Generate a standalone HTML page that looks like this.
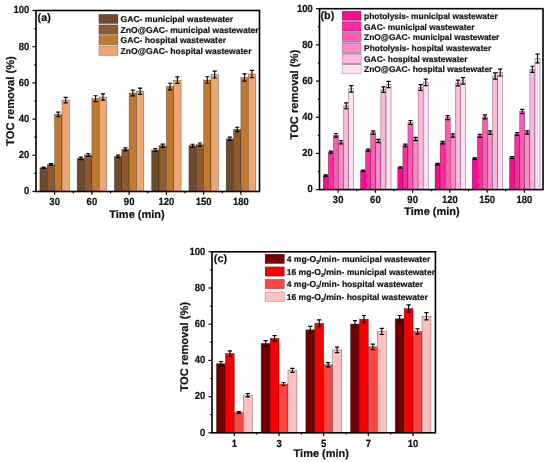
<!DOCTYPE html>
<html><head><meta charset="utf-8"><style>
html,body{margin:0;padding:0;background:#fff;}
svg{display:block;will-change:transform;}
text{font-family:"Liberation Sans", sans-serif;font-weight:bold;fill:#111;text-rendering:geometricPrecision;stroke:#111;stroke-width:0.2px;}
</style></head><body>
<svg width="550" height="462" viewBox="0 0 550 462">
<rect width="550" height="462" fill="#fff"/>
<rect x="39.91" y="167.79" width="7.36" height="23.71" fill="#6e4a2e" stroke="#000" stroke-opacity="0.55" stroke-width="0.5"/>
<rect x="47.27" y="164.53" width="7.36" height="26.97" fill="#8e5a2e" stroke="#000" stroke-opacity="0.55" stroke-width="0.5"/>
<rect x="54.62" y="114.39" width="7.36" height="77.11" fill="#c07a30" stroke="#000" stroke-opacity="0.55" stroke-width="0.5"/>
<rect x="61.98" y="100.09" width="7.36" height="91.41" fill="#eea674" stroke="#000" stroke-opacity="0.55" stroke-width="0.5"/>
<rect x="77.16" y="158.38" width="7.36" height="33.12" fill="#6e4a2e" stroke="#000" stroke-opacity="0.55" stroke-width="0.5"/>
<rect x="84.52" y="154.94" width="7.36" height="36.56" fill="#8e5a2e" stroke="#000" stroke-opacity="0.55" stroke-width="0.5"/>
<rect x="91.88" y="98.65" width="7.36" height="92.85" fill="#c07a30" stroke="#000" stroke-opacity="0.55" stroke-width="0.5"/>
<rect x="99.23" y="97.02" width="7.36" height="94.48" fill="#eea674" stroke="#000" stroke-opacity="0.55" stroke-width="0.5"/>
<rect x="114.41" y="156.39" width="7.36" height="35.11" fill="#6e4a2e" stroke="#000" stroke-opacity="0.55" stroke-width="0.5"/>
<rect x="121.77" y="149.33" width="7.36" height="42.17" fill="#8e5a2e" stroke="#000" stroke-opacity="0.55" stroke-width="0.5"/>
<rect x="129.12" y="93.04" width="7.36" height="98.46" fill="#c07a30" stroke="#000" stroke-opacity="0.55" stroke-width="0.5"/>
<rect x="136.48" y="91.23" width="7.36" height="100.27" fill="#eea674" stroke="#000" stroke-opacity="0.55" stroke-width="0.5"/>
<rect x="151.66" y="150.05" width="7.36" height="41.45" fill="#6e4a2e" stroke="#000" stroke-opacity="0.55" stroke-width="0.5"/>
<rect x="159.02" y="145.71" width="7.36" height="45.79" fill="#8e5a2e" stroke="#000" stroke-opacity="0.55" stroke-width="0.5"/>
<rect x="166.38" y="86.52" width="7.36" height="104.98" fill="#c07a30" stroke="#000" stroke-opacity="0.55" stroke-width="0.5"/>
<rect x="173.73" y="80.19" width="7.36" height="111.31" fill="#eea674" stroke="#000" stroke-opacity="0.55" stroke-width="0.5"/>
<rect x="188.91" y="145.71" width="7.36" height="45.79" fill="#6e4a2e" stroke="#000" stroke-opacity="0.55" stroke-width="0.5"/>
<rect x="196.27" y="144.62" width="7.36" height="46.88" fill="#8e5a2e" stroke="#000" stroke-opacity="0.55" stroke-width="0.5"/>
<rect x="203.62" y="80" width="7.36" height="111.5" fill="#c07a30" stroke="#000" stroke-opacity="0.55" stroke-width="0.5"/>
<rect x="210.98" y="74.57" width="7.36" height="116.93" fill="#eea674" stroke="#000" stroke-opacity="0.55" stroke-width="0.5"/>
<rect x="226.16" y="138.83" width="7.36" height="52.67" fill="#6e4a2e" stroke="#000" stroke-opacity="0.55" stroke-width="0.5"/>
<rect x="233.52" y="129.42" width="7.36" height="62.08" fill="#8e5a2e" stroke="#000" stroke-opacity="0.55" stroke-width="0.5"/>
<rect x="240.88" y="77.47" width="7.36" height="114.03" fill="#c07a30" stroke="#000" stroke-opacity="0.55" stroke-width="0.5"/>
<rect x="248.23" y="74.03" width="7.36" height="117.47" fill="#eea674" stroke="#000" stroke-opacity="0.55" stroke-width="0.5"/>
<path d="M43.59 167.06V168.51" stroke="#000" stroke-width="1.1" fill="none"/>
<path d="M41.49 167.06h4.2M41.49 168.51h4.2" stroke="#000" stroke-width="1.2" fill="none"/>
<path d="M50.95 163.63V165.44" stroke="#000" stroke-width="1.1" fill="none"/>
<path d="M48.85 163.63h4.2M48.85 165.44h4.2" stroke="#000" stroke-width="1.2" fill="none"/>
<path d="M58.3 112.04V116.75" stroke="#000" stroke-width="1.1" fill="none"/>
<path d="M56.2 112.04h4.2M56.2 116.75h4.2" stroke="#000" stroke-width="1.2" fill="none"/>
<path d="M65.66 97.38V102.81" stroke="#000" stroke-width="1.1" fill="none"/>
<path d="M63.56 97.38h4.2M63.56 102.81h4.2" stroke="#000" stroke-width="1.2" fill="none"/>
<path d="M80.84 157.11V159.64" stroke="#000" stroke-width="1.1" fill="none"/>
<path d="M78.74 157.11h4.2M78.74 159.64h4.2" stroke="#000" stroke-width="1.2" fill="none"/>
<path d="M88.2 153.49V156.39" stroke="#000" stroke-width="1.1" fill="none"/>
<path d="M86.1 153.49h4.2M86.1 156.39h4.2" stroke="#000" stroke-width="1.2" fill="none"/>
<path d="M95.55 95.75V101.54" stroke="#000" stroke-width="1.1" fill="none"/>
<path d="M93.45 95.75h4.2M93.45 101.54h4.2" stroke="#000" stroke-width="1.2" fill="none"/>
<path d="M102.91 93.94V100.09" stroke="#000" stroke-width="1.1" fill="none"/>
<path d="M100.81 93.94h4.2M100.81 100.09h4.2" stroke="#000" stroke-width="1.2" fill="none"/>
<path d="M118.09 155.12V157.65" stroke="#000" stroke-width="1.1" fill="none"/>
<path d="M115.99 155.12h4.2M115.99 157.65h4.2" stroke="#000" stroke-width="1.2" fill="none"/>
<path d="M125.45 147.88V150.78" stroke="#000" stroke-width="1.1" fill="none"/>
<path d="M123.35 147.88h4.2M123.35 150.78h4.2" stroke="#000" stroke-width="1.2" fill="none"/>
<path d="M132.8 90.14V95.93" stroke="#000" stroke-width="1.1" fill="none"/>
<path d="M130.7 90.14h4.2M130.7 95.93h4.2" stroke="#000" stroke-width="1.2" fill="none"/>
<path d="M140.16 88.15V94.3" stroke="#000" stroke-width="1.1" fill="none"/>
<path d="M138.06 88.15h4.2M138.06 94.3h4.2" stroke="#000" stroke-width="1.2" fill="none"/>
<path d="M155.34 148.6V151.5" stroke="#000" stroke-width="1.1" fill="none"/>
<path d="M153.24 148.6h4.2M153.24 151.5h4.2" stroke="#000" stroke-width="1.2" fill="none"/>
<path d="M162.7 144.08V147.34" stroke="#000" stroke-width="1.1" fill="none"/>
<path d="M160.6 144.08h4.2M160.6 147.34h4.2" stroke="#000" stroke-width="1.2" fill="none"/>
<path d="M170.05 83.26V89.78" stroke="#000" stroke-width="1.1" fill="none"/>
<path d="M167.95 83.26h4.2M167.95 89.78h4.2" stroke="#000" stroke-width="1.2" fill="none"/>
<path d="M177.41 76.93V83.44" stroke="#000" stroke-width="1.1" fill="none"/>
<path d="M175.31 76.93h4.2M175.31 83.44h4.2" stroke="#000" stroke-width="1.2" fill="none"/>
<path d="M192.59 144.26V147.16" stroke="#000" stroke-width="1.1" fill="none"/>
<path d="M190.49 144.26h4.2M190.49 147.16h4.2" stroke="#000" stroke-width="1.2" fill="none"/>
<path d="M199.95 142.99V146.25" stroke="#000" stroke-width="1.1" fill="none"/>
<path d="M197.85 142.99h4.2M197.85 146.25h4.2" stroke="#000" stroke-width="1.2" fill="none"/>
<path d="M207.3 76.75V83.26" stroke="#000" stroke-width="1.1" fill="none"/>
<path d="M205.2 76.75h4.2M205.2 83.26h4.2" stroke="#000" stroke-width="1.2" fill="none"/>
<path d="M214.66 71.13V78.01" stroke="#000" stroke-width="1.1" fill="none"/>
<path d="M212.56 71.13h4.2M212.56 78.01h4.2" stroke="#000" stroke-width="1.2" fill="none"/>
<path d="M229.84 137.2V140.46" stroke="#000" stroke-width="1.1" fill="none"/>
<path d="M227.74 137.2h4.2M227.74 140.46h4.2" stroke="#000" stroke-width="1.2" fill="none"/>
<path d="M237.2 127.25V131.59" stroke="#000" stroke-width="1.1" fill="none"/>
<path d="M235.1 127.25h4.2M235.1 131.59h4.2" stroke="#000" stroke-width="1.2" fill="none"/>
<path d="M244.55 73.85V81.09" stroke="#000" stroke-width="1.1" fill="none"/>
<path d="M242.45 73.85h4.2M242.45 81.09h4.2" stroke="#000" stroke-width="1.2" fill="none"/>
<path d="M251.91 70.41V77.65" stroke="#000" stroke-width="1.1" fill="none"/>
<path d="M249.81 70.41h4.2M249.81 77.65h4.2" stroke="#000" stroke-width="1.2" fill="none"/>
<rect x="36" y="10.5" width="223.5" height="181" fill="none" stroke="#000" stroke-width="1.6"/>
<path d="M32.5 191.5H36" stroke="#000" stroke-width="1.2"/>
<text transform="translate(29.2 194.35) scale(0.96 1.05)" text-anchor="end" font-size="9.9">0</text>
<path d="M34.3 173.4H36" stroke="#000" stroke-width="1.2"/>
<path d="M32.5 155.3H36" stroke="#000" stroke-width="1.2"/>
<text transform="translate(29.2 158.15) scale(0.96 1.05)" text-anchor="end" font-size="9.9">20</text>
<path d="M34.3 137.2H36" stroke="#000" stroke-width="1.2"/>
<path d="M32.5 119.1H36" stroke="#000" stroke-width="1.2"/>
<text transform="translate(29.2 121.95) scale(0.96 1.05)" text-anchor="end" font-size="9.9">40</text>
<path d="M34.3 101H36" stroke="#000" stroke-width="1.2"/>
<path d="M32.5 82.9H36" stroke="#000" stroke-width="1.2"/>
<text transform="translate(29.2 85.75) scale(0.96 1.05)" text-anchor="end" font-size="9.9">60</text>
<path d="M34.3 64.8H36" stroke="#000" stroke-width="1.2"/>
<path d="M32.5 46.7H36" stroke="#000" stroke-width="1.2"/>
<text transform="translate(29.2 49.55) scale(0.96 1.05)" text-anchor="end" font-size="9.9">80</text>
<path d="M34.3 28.6H36" stroke="#000" stroke-width="1.2"/>
<path d="M32.5 10.5H36" stroke="#000" stroke-width="1.2"/>
<text transform="translate(29.2 13.35) scale(0.96 1.05)" text-anchor="end" font-size="9.9">100</text>
<path d="M54.62 191.5v3.2" stroke="#000" stroke-width="1.2"/>
<text transform="translate(54.62 205.2) scale(0.96 1.05)" text-anchor="middle" font-size="9.9">30</text>
<path d="M91.88 191.5v3.2" stroke="#000" stroke-width="1.2"/>
<text transform="translate(91.88 205.2) scale(0.96 1.05)" text-anchor="middle" font-size="9.9">60</text>
<path d="M73.25 191.5v1.7" stroke="#000" stroke-width="1.2"/>
<path d="M129.12 191.5v3.2" stroke="#000" stroke-width="1.2"/>
<text transform="translate(129.12 205.2) scale(0.96 1.05)" text-anchor="middle" font-size="9.9">90</text>
<path d="M110.5 191.5v1.7" stroke="#000" stroke-width="1.2"/>
<path d="M166.38 191.5v3.2" stroke="#000" stroke-width="1.2"/>
<text transform="translate(166.38 205.2) scale(0.96 1.05)" text-anchor="middle" font-size="9.9">120</text>
<path d="M147.75 191.5v1.7" stroke="#000" stroke-width="1.2"/>
<path d="M203.62 191.5v3.2" stroke="#000" stroke-width="1.2"/>
<text transform="translate(203.62 205.2) scale(0.96 1.05)" text-anchor="middle" font-size="9.9">150</text>
<path d="M185 191.5v1.7" stroke="#000" stroke-width="1.2"/>
<path d="M240.88 191.5v3.2" stroke="#000" stroke-width="1.2"/>
<text transform="translate(240.88 205.2) scale(0.96 1.05)" text-anchor="middle" font-size="9.9">180</text>
<path d="M222.25 191.5v1.7" stroke="#000" stroke-width="1.2"/>
<text x="137" y="217.7" text-anchor="middle" font-size="11.0">Time (min)</text>
<text transform="translate(14 101) rotate(-90)" text-anchor="middle" font-size="11.15">TOC removal (%)</text>
<text x="37.6" y="21.4" font-size="10.8">(a)</text>
<rect x="98.9" y="23.5" width="19.1" height="1.6" fill="#d4d8dc"/>
<rect x="98.9" y="34.3" width="19.1" height="1.3" fill="#d4d8dc"/>
<rect x="98.9" y="44.8" width="19.1" height="1.5" fill="#d4d8dc"/>
<rect x="98.9" y="14.3" width="19.1" height="9.2" fill="#6e4a2e" stroke="#000" stroke-opacity="0.4" stroke-width="0.5"/>
<text x="120.6" y="21.9" font-size="8.55">GAC- municipal wastewater</text>
<rect x="98.9" y="25.1" width="19.1" height="9.2" fill="#8e5a2e" stroke="#000" stroke-opacity="0.4" stroke-width="0.5"/>
<text x="120.6" y="32.7" font-size="8.55">ZnO@GAC- municipal wastewater</text>
<rect x="98.9" y="35.6" width="19.1" height="9.2" fill="#c07a30" stroke="#000" stroke-opacity="0.4" stroke-width="0.5"/>
<text x="120.6" y="43.2" font-size="8.55">GAC- hospital wastewater</text>
<rect x="98.9" y="46.3" width="19.1" height="9.2" fill="#eea674" stroke="#000" stroke-opacity="0.4" stroke-width="0.5"/>
<text x="120.6" y="53.9" font-size="8.55">ZnO@GAC- hospital wastewater</text>
<rect x="323.25" y="175.67" width="5.09" height="13.93" fill="#fc0a94" stroke="#000" stroke-opacity="0.55" stroke-width="0.5"/>
<rect x="328.34" y="152.15" width="5.09" height="37.45" fill="#fe2c9e" stroke="#000" stroke-opacity="0.55" stroke-width="0.5"/>
<rect x="333.43" y="135.33" width="5.09" height="54.27" fill="#fe5cb2" stroke="#000" stroke-opacity="0.55" stroke-width="0.5"/>
<rect x="338.52" y="142.39" width="5.09" height="47.21" fill="#ff88c8" stroke="#000" stroke-opacity="0.55" stroke-width="0.5"/>
<rect x="343.62" y="105.84" width="5.09" height="83.76" fill="#feb8de" stroke="#000" stroke-opacity="0.55" stroke-width="0.5"/>
<rect x="348.71" y="88.84" width="5.09" height="100.76" fill="#ffe0f0" stroke="#000" stroke-opacity="0.55" stroke-width="0.5"/>
<rect x="360.5" y="170.79" width="5.09" height="18.81" fill="#fc0a94" stroke="#000" stroke-opacity="0.55" stroke-width="0.5"/>
<rect x="365.59" y="150.16" width="5.09" height="39.44" fill="#fe2c9e" stroke="#000" stroke-opacity="0.55" stroke-width="0.5"/>
<rect x="370.68" y="132.62" width="5.09" height="56.98" fill="#fe5cb2" stroke="#000" stroke-opacity="0.55" stroke-width="0.5"/>
<rect x="375.77" y="140.94" width="5.09" height="48.66" fill="#ff88c8" stroke="#000" stroke-opacity="0.55" stroke-width="0.5"/>
<rect x="380.87" y="89.56" width="5.09" height="100.04" fill="#feb8de" stroke="#000" stroke-opacity="0.55" stroke-width="0.5"/>
<rect x="385.96" y="84.5" width="5.09" height="105.1" fill="#ffe0f0" stroke="#000" stroke-opacity="0.55" stroke-width="0.5"/>
<rect x="397.75" y="167.53" width="5.09" height="22.07" fill="#fc0a94" stroke="#000" stroke-opacity="0.55" stroke-width="0.5"/>
<rect x="402.84" y="145.46" width="5.09" height="44.14" fill="#fe2c9e" stroke="#000" stroke-opacity="0.55" stroke-width="0.5"/>
<rect x="407.93" y="122.49" width="5.09" height="67.11" fill="#fe5cb2" stroke="#000" stroke-opacity="0.55" stroke-width="0.5"/>
<rect x="413.02" y="138.95" width="5.09" height="50.65" fill="#ff88c8" stroke="#000" stroke-opacity="0.55" stroke-width="0.5"/>
<rect x="418.12" y="87.57" width="5.09" height="102.03" fill="#feb8de" stroke="#000" stroke-opacity="0.55" stroke-width="0.5"/>
<rect x="423.21" y="82.33" width="5.09" height="107.27" fill="#ffe0f0" stroke="#000" stroke-opacity="0.55" stroke-width="0.5"/>
<rect x="435" y="164.09" width="5.09" height="25.51" fill="#fc0a94" stroke="#000" stroke-opacity="0.55" stroke-width="0.5"/>
<rect x="440.09" y="142.57" width="5.09" height="47.03" fill="#fe2c9e" stroke="#000" stroke-opacity="0.55" stroke-width="0.5"/>
<rect x="445.18" y="117.6" width="5.09" height="72" fill="#fe5cb2" stroke="#000" stroke-opacity="0.55" stroke-width="0.5"/>
<rect x="450.27" y="135.51" width="5.09" height="54.09" fill="#ff88c8" stroke="#000" stroke-opacity="0.55" stroke-width="0.5"/>
<rect x="455.37" y="83.05" width="5.09" height="106.55" fill="#feb8de" stroke="#000" stroke-opacity="0.55" stroke-width="0.5"/>
<rect x="460.46" y="80.88" width="5.09" height="108.72" fill="#ffe0f0" stroke="#000" stroke-opacity="0.55" stroke-width="0.5"/>
<rect x="472.25" y="158.67" width="5.09" height="30.93" fill="#fc0a94" stroke="#000" stroke-opacity="0.55" stroke-width="0.5"/>
<rect x="477.34" y="135.87" width="5.09" height="53.73" fill="#fe2c9e" stroke="#000" stroke-opacity="0.55" stroke-width="0.5"/>
<rect x="482.43" y="116.88" width="5.09" height="72.72" fill="#fe5cb2" stroke="#000" stroke-opacity="0.55" stroke-width="0.5"/>
<rect x="487.52" y="132.62" width="5.09" height="56.98" fill="#ff88c8" stroke="#000" stroke-opacity="0.55" stroke-width="0.5"/>
<rect x="492.62" y="75.99" width="5.09" height="113.61" fill="#feb8de" stroke="#000" stroke-opacity="0.55" stroke-width="0.5"/>
<rect x="497.71" y="72.56" width="5.09" height="117.04" fill="#ffe0f0" stroke="#000" stroke-opacity="0.55" stroke-width="0.5"/>
<rect x="509.5" y="157.58" width="5.09" height="32.02" fill="#fc0a94" stroke="#000" stroke-opacity="0.55" stroke-width="0.5"/>
<rect x="514.59" y="134.06" width="5.09" height="55.54" fill="#fe2c9e" stroke="#000" stroke-opacity="0.55" stroke-width="0.5"/>
<rect x="519.68" y="111.45" width="5.09" height="78.15" fill="#fe5cb2" stroke="#000" stroke-opacity="0.55" stroke-width="0.5"/>
<rect x="524.77" y="132.44" width="5.09" height="57.16" fill="#ff88c8" stroke="#000" stroke-opacity="0.55" stroke-width="0.5"/>
<rect x="529.87" y="69.3" width="5.09" height="120.3" fill="#feb8de" stroke="#000" stroke-opacity="0.55" stroke-width="0.5"/>
<rect x="534.96" y="58.45" width="5.09" height="131.15" fill="#ffe0f0" stroke="#000" stroke-opacity="0.55" stroke-width="0.5"/>
<path d="M325.8 174.95V176.39" stroke="#000" stroke-width="1.1" fill="none"/>
<path d="M323.7 174.95h4.2M323.7 176.39h4.2" stroke="#000" stroke-width="1.2" fill="none"/>
<path d="M330.89 151.07V153.24" stroke="#000" stroke-width="1.1" fill="none"/>
<path d="M328.79 151.07h4.2M328.79 153.24h4.2" stroke="#000" stroke-width="1.2" fill="none"/>
<path d="M335.98 133.52V137.14" stroke="#000" stroke-width="1.1" fill="none"/>
<path d="M333.88 133.52h4.2M333.88 137.14h4.2" stroke="#000" stroke-width="1.2" fill="none"/>
<path d="M341.07 140.76V144.01" stroke="#000" stroke-width="1.1" fill="none"/>
<path d="M338.97 140.76h4.2M338.97 144.01h4.2" stroke="#000" stroke-width="1.2" fill="none"/>
<path d="M346.16 102.95V108.74" stroke="#000" stroke-width="1.1" fill="none"/>
<path d="M344.06 102.95h4.2M344.06 108.74h4.2" stroke="#000" stroke-width="1.2" fill="none"/>
<path d="M351.25 85.58V92.09" stroke="#000" stroke-width="1.1" fill="none"/>
<path d="M349.15 85.58h4.2M349.15 92.09h4.2" stroke="#000" stroke-width="1.2" fill="none"/>
<path d="M363.05 170.06V171.51" stroke="#000" stroke-width="1.1" fill="none"/>
<path d="M360.95 170.06h4.2M360.95 171.51h4.2" stroke="#000" stroke-width="1.2" fill="none"/>
<path d="M368.14 149.08V151.25" stroke="#000" stroke-width="1.1" fill="none"/>
<path d="M366.04 149.08h4.2M366.04 151.25h4.2" stroke="#000" stroke-width="1.2" fill="none"/>
<path d="M373.23 130.81V134.43" stroke="#000" stroke-width="1.1" fill="none"/>
<path d="M371.13 130.81h4.2M371.13 134.43h4.2" stroke="#000" stroke-width="1.2" fill="none"/>
<path d="M378.32 139.31V142.57" stroke="#000" stroke-width="1.1" fill="none"/>
<path d="M376.22 139.31h4.2M376.22 142.57h4.2" stroke="#000" stroke-width="1.2" fill="none"/>
<path d="M383.41 86.85V92.28" stroke="#000" stroke-width="1.1" fill="none"/>
<path d="M381.31 86.85h4.2M381.31 92.28h4.2" stroke="#000" stroke-width="1.2" fill="none"/>
<path d="M388.5 81.42V87.57" stroke="#000" stroke-width="1.1" fill="none"/>
<path d="M386.4 81.42h4.2M386.4 87.57h4.2" stroke="#000" stroke-width="1.2" fill="none"/>
<path d="M400.3 166.81V168.25" stroke="#000" stroke-width="1.1" fill="none"/>
<path d="M398.2 166.81h4.2M398.2 168.25h4.2" stroke="#000" stroke-width="1.2" fill="none"/>
<path d="M405.39 144.19V146.73" stroke="#000" stroke-width="1.1" fill="none"/>
<path d="M403.29 144.19h4.2M403.29 146.73h4.2" stroke="#000" stroke-width="1.2" fill="none"/>
<path d="M410.48 120.5V124.48" stroke="#000" stroke-width="1.1" fill="none"/>
<path d="M408.38 120.5h4.2M408.38 124.48h4.2" stroke="#000" stroke-width="1.2" fill="none"/>
<path d="M415.57 137.32V140.58" stroke="#000" stroke-width="1.1" fill="none"/>
<path d="M413.47 137.32h4.2M413.47 140.58h4.2" stroke="#000" stroke-width="1.2" fill="none"/>
<path d="M420.66 84.68V90.47" stroke="#000" stroke-width="1.1" fill="none"/>
<path d="M418.56 84.68h4.2M418.56 90.47h4.2" stroke="#000" stroke-width="1.2" fill="none"/>
<path d="M425.75 79.07V85.58" stroke="#000" stroke-width="1.1" fill="none"/>
<path d="M423.65 79.07h4.2M423.65 85.58h4.2" stroke="#000" stroke-width="1.2" fill="none"/>
<path d="M437.55 163.37V164.82" stroke="#000" stroke-width="1.1" fill="none"/>
<path d="M435.45 163.37h4.2M435.45 164.82h4.2" stroke="#000" stroke-width="1.2" fill="none"/>
<path d="M442.64 141.3V143.83" stroke="#000" stroke-width="1.1" fill="none"/>
<path d="M440.54 141.3h4.2M440.54 143.83h4.2" stroke="#000" stroke-width="1.2" fill="none"/>
<path d="M447.73 115.61V119.59" stroke="#000" stroke-width="1.1" fill="none"/>
<path d="M445.63 115.61h4.2M445.63 119.59h4.2" stroke="#000" stroke-width="1.2" fill="none"/>
<path d="M452.82 133.88V137.14" stroke="#000" stroke-width="1.1" fill="none"/>
<path d="M450.72 133.88h4.2M450.72 137.14h4.2" stroke="#000" stroke-width="1.2" fill="none"/>
<path d="M457.91 80.16V85.94" stroke="#000" stroke-width="1.1" fill="none"/>
<path d="M455.81 80.16h4.2M455.81 85.94h4.2" stroke="#000" stroke-width="1.2" fill="none"/>
<path d="M463 77.62V84.14" stroke="#000" stroke-width="1.1" fill="none"/>
<path d="M460.9 77.62h4.2M460.9 84.14h4.2" stroke="#000" stroke-width="1.2" fill="none"/>
<path d="M474.8 157.94V159.39" stroke="#000" stroke-width="1.1" fill="none"/>
<path d="M472.7 157.94h4.2M472.7 159.39h4.2" stroke="#000" stroke-width="1.2" fill="none"/>
<path d="M479.89 134.43V137.32" stroke="#000" stroke-width="1.1" fill="none"/>
<path d="M477.79 134.43h4.2M477.79 137.32h4.2" stroke="#000" stroke-width="1.2" fill="none"/>
<path d="M484.98 114.89V118.87" stroke="#000" stroke-width="1.1" fill="none"/>
<path d="M482.88 114.89h4.2M482.88 118.87h4.2" stroke="#000" stroke-width="1.2" fill="none"/>
<path d="M490.07 130.81V134.43" stroke="#000" stroke-width="1.1" fill="none"/>
<path d="M487.97 130.81h4.2M487.97 134.43h4.2" stroke="#000" stroke-width="1.2" fill="none"/>
<path d="M495.16 72.92V79.07" stroke="#000" stroke-width="1.1" fill="none"/>
<path d="M493.06 72.92h4.2M493.06 79.07h4.2" stroke="#000" stroke-width="1.2" fill="none"/>
<path d="M500.25 69.12V75.99" stroke="#000" stroke-width="1.1" fill="none"/>
<path d="M498.15 69.12h4.2M498.15 75.99h4.2" stroke="#000" stroke-width="1.2" fill="none"/>
<path d="M512.05 156.68V158.49" stroke="#000" stroke-width="1.1" fill="none"/>
<path d="M509.95 156.68h4.2M509.95 158.49h4.2" stroke="#000" stroke-width="1.2" fill="none"/>
<path d="M517.14 132.62V135.51" stroke="#000" stroke-width="1.1" fill="none"/>
<path d="M515.04 132.62h4.2M515.04 135.51h4.2" stroke="#000" stroke-width="1.2" fill="none"/>
<path d="M522.23 109.28V113.62" stroke="#000" stroke-width="1.1" fill="none"/>
<path d="M520.13 109.28h4.2M520.13 113.62h4.2" stroke="#000" stroke-width="1.2" fill="none"/>
<path d="M527.32 130.81V134.06" stroke="#000" stroke-width="1.1" fill="none"/>
<path d="M525.22 130.81h4.2M525.22 134.06h4.2" stroke="#000" stroke-width="1.2" fill="none"/>
<path d="M532.41 66.23V72.38" stroke="#000" stroke-width="1.1" fill="none"/>
<path d="M530.31 66.23h4.2M530.31 72.38h4.2" stroke="#000" stroke-width="1.2" fill="none"/>
<path d="M537.5 54.11V62.79" stroke="#000" stroke-width="1.1" fill="none"/>
<path d="M535.4 54.11h4.2M535.4 62.79h4.2" stroke="#000" stroke-width="1.2" fill="none"/>
<rect x="319.5" y="8.7" width="223.5" height="180.9" fill="none" stroke="#000" stroke-width="1.6"/>
<path d="M316 189.6H319.5" stroke="#000" stroke-width="1.2"/>
<text transform="translate(312.7 192.45) scale(0.96 1.05)" text-anchor="end" font-size="9.9">0</text>
<path d="M317.8 171.51H319.5" stroke="#000" stroke-width="1.2"/>
<path d="M316 153.42H319.5" stroke="#000" stroke-width="1.2"/>
<text transform="translate(312.7 156.27) scale(0.96 1.05)" text-anchor="end" font-size="9.9">20</text>
<path d="M317.8 135.33H319.5" stroke="#000" stroke-width="1.2"/>
<path d="M316 117.24H319.5" stroke="#000" stroke-width="1.2"/>
<text transform="translate(312.7 120.09) scale(0.96 1.05)" text-anchor="end" font-size="9.9">40</text>
<path d="M317.8 99.15H319.5" stroke="#000" stroke-width="1.2"/>
<path d="M316 81.06H319.5" stroke="#000" stroke-width="1.2"/>
<text transform="translate(312.7 83.91) scale(0.96 1.05)" text-anchor="end" font-size="9.9">60</text>
<path d="M317.8 62.97H319.5" stroke="#000" stroke-width="1.2"/>
<path d="M316 44.88H319.5" stroke="#000" stroke-width="1.2"/>
<text transform="translate(312.7 47.73) scale(0.96 1.05)" text-anchor="end" font-size="9.9">80</text>
<path d="M317.8 26.79H319.5" stroke="#000" stroke-width="1.2"/>
<path d="M316 8.7H319.5" stroke="#000" stroke-width="1.2"/>
<text transform="translate(312.7 11.55) scale(0.96 1.05)" text-anchor="end" font-size="9.9">100</text>
<path d="M338.12 189.6v3.2" stroke="#000" stroke-width="1.2"/>
<text transform="translate(338.12 203.3) scale(0.96 1.05)" text-anchor="middle" font-size="9.9">30</text>
<path d="M375.38 189.6v3.2" stroke="#000" stroke-width="1.2"/>
<text transform="translate(375.38 203.3) scale(0.96 1.05)" text-anchor="middle" font-size="9.9">60</text>
<path d="M356.75 189.6v1.7" stroke="#000" stroke-width="1.2"/>
<path d="M412.62 189.6v3.2" stroke="#000" stroke-width="1.2"/>
<text transform="translate(412.62 203.3) scale(0.96 1.05)" text-anchor="middle" font-size="9.9">90</text>
<path d="M394 189.6v1.7" stroke="#000" stroke-width="1.2"/>
<path d="M449.88 189.6v3.2" stroke="#000" stroke-width="1.2"/>
<text transform="translate(449.88 203.3) scale(0.96 1.05)" text-anchor="middle" font-size="9.9">120</text>
<path d="M431.25 189.6v1.7" stroke="#000" stroke-width="1.2"/>
<path d="M487.12 189.6v3.2" stroke="#000" stroke-width="1.2"/>
<text transform="translate(487.12 203.3) scale(0.96 1.05)" text-anchor="middle" font-size="9.9">150</text>
<path d="M468.5 189.6v1.7" stroke="#000" stroke-width="1.2"/>
<path d="M524.38 189.6v3.2" stroke="#000" stroke-width="1.2"/>
<text transform="translate(524.38 203.3) scale(0.96 1.05)" text-anchor="middle" font-size="9.9">180</text>
<path d="M505.75 189.6v1.7" stroke="#000" stroke-width="1.2"/>
<text x="432" y="214.5" text-anchor="middle" font-size="11.0">Time (min)</text>
<text transform="translate(297.7 94.65) rotate(-90)" text-anchor="middle" font-size="11.15">TOC removal (%)</text>
<text x="320.5" y="19" font-size="10.8">(b)</text>
<rect x="342.1" y="20.1" width="19" height="1.9" fill="#b0b0b0"/>
<rect x="342.1" y="31" width="19" height="1.7" fill="#b0b0b0"/>
<rect x="342.1" y="41.7" width="19" height="1.6" fill="#b0b0b0"/>
<rect x="342.1" y="52.3" width="19" height="1.9" fill="#b0b0b0"/>
<rect x="342.1" y="63.2" width="19" height="1.6" fill="#b0b0b0"/>
<rect x="342.1" y="11.1" width="19" height="9" fill="#fc0a94" stroke="#000" stroke-opacity="0.4" stroke-width="0.5"/>
<text x="364.1" y="18.6" font-size="8.4">photolysis- municipal wastewater</text>
<rect x="342.1" y="22" width="19" height="9" fill="#fe2c9e" stroke="#000" stroke-opacity="0.4" stroke-width="0.5"/>
<text x="364.1" y="29.5" font-size="8.4">GAC- municipal wastewater</text>
<rect x="342.1" y="32.7" width="19" height="9" fill="#fe5cb2" stroke="#000" stroke-opacity="0.4" stroke-width="0.5"/>
<text x="364.1" y="40.2" font-size="8.4">ZnO@GAC- municipal wastewater</text>
<rect x="342.1" y="43.3" width="19" height="9" fill="#ff88c8" stroke="#000" stroke-opacity="0.4" stroke-width="0.5"/>
<text x="364.1" y="50.8" font-size="8.4">Photolysis- hospital wastewater</text>
<rect x="342.1" y="54.2" width="19" height="9" fill="#feb8de" stroke="#000" stroke-opacity="0.4" stroke-width="0.5"/>
<text x="364.1" y="61.7" font-size="8.4">GAC- hospital wastewater</text>
<rect x="342.1" y="64.8" width="19" height="9" fill="#ffe0f0" stroke="#000" stroke-opacity="0.4" stroke-width="0.5"/>
<text x="364.1" y="72.3" font-size="8.4">ZnO@GAC- hospital wastewater</text>
<rect x="216.47" y="363.66" width="8.94" height="69.14" fill="#700004" stroke="#000" stroke-opacity="0.55" stroke-width="0.5"/>
<rect x="225.4" y="353.52" width="8.94" height="79.28" fill="#f80000" stroke="#000" stroke-opacity="0.55" stroke-width="0.5"/>
<rect x="234.34" y="412.53" width="8.94" height="20.27" fill="#ff4444" stroke="#000" stroke-opacity="0.55" stroke-width="0.5"/>
<rect x="243.28" y="395.15" width="8.94" height="37.65" fill="#ffc0c0" stroke="#000" stroke-opacity="0.55" stroke-width="0.5"/>
<rect x="261.15" y="343.39" width="8.94" height="89.41" fill="#700004" stroke="#000" stroke-opacity="0.55" stroke-width="0.5"/>
<rect x="270.08" y="338.32" width="8.94" height="94.48" fill="#f80000" stroke="#000" stroke-opacity="0.55" stroke-width="0.5"/>
<rect x="279.02" y="384.11" width="8.94" height="48.69" fill="#ff4444" stroke="#000" stroke-opacity="0.55" stroke-width="0.5"/>
<rect x="287.96" y="370.36" width="8.94" height="62.44" fill="#ffc0c0" stroke="#000" stroke-opacity="0.55" stroke-width="0.5"/>
<rect x="305.83" y="329.81" width="8.94" height="102.99" fill="#700004" stroke="#000" stroke-opacity="0.55" stroke-width="0.5"/>
<rect x="314.76" y="323.3" width="8.94" height="109.5" fill="#f80000" stroke="#000" stroke-opacity="0.55" stroke-width="0.5"/>
<rect x="323.7" y="364.74" width="8.94" height="68.06" fill="#ff4444" stroke="#000" stroke-opacity="0.55" stroke-width="0.5"/>
<rect x="332.64" y="349.9" width="8.94" height="82.9" fill="#ffc0c0" stroke="#000" stroke-opacity="0.55" stroke-width="0.5"/>
<rect x="350.51" y="324.02" width="8.94" height="108.78" fill="#700004" stroke="#000" stroke-opacity="0.55" stroke-width="0.5"/>
<rect x="359.44" y="319.13" width="8.94" height="113.67" fill="#f80000" stroke="#000" stroke-opacity="0.55" stroke-width="0.5"/>
<rect x="368.38" y="346.82" width="8.94" height="85.98" fill="#ff4444" stroke="#000" stroke-opacity="0.55" stroke-width="0.5"/>
<rect x="377.32" y="331.44" width="8.94" height="101.36" fill="#ffc0c0" stroke="#000" stroke-opacity="0.55" stroke-width="0.5"/>
<rect x="395.19" y="318.77" width="8.94" height="114.03" fill="#700004" stroke="#000" stroke-opacity="0.55" stroke-width="0.5"/>
<rect x="404.12" y="308.45" width="8.94" height="124.35" fill="#f80000" stroke="#000" stroke-opacity="0.55" stroke-width="0.5"/>
<rect x="413.06" y="331.44" width="8.94" height="101.36" fill="#ff4444" stroke="#000" stroke-opacity="0.55" stroke-width="0.5"/>
<rect x="422" y="316.24" width="8.94" height="116.56" fill="#ffc0c0" stroke="#000" stroke-opacity="0.55" stroke-width="0.5"/>
<path d="M220.94 361.49V365.83" stroke="#000" stroke-width="1.1" fill="none"/>
<path d="M218.84 361.49h4.2M218.84 365.83h4.2" stroke="#000" stroke-width="1.2" fill="none"/>
<path d="M229.87 350.81V356.24" stroke="#000" stroke-width="1.1" fill="none"/>
<path d="M227.77 350.81h4.2M227.77 356.24h4.2" stroke="#000" stroke-width="1.2" fill="none"/>
<path d="M238.81 411.62V413.43" stroke="#000" stroke-width="1.1" fill="none"/>
<path d="M236.71 411.62h4.2M236.71 413.43h4.2" stroke="#000" stroke-width="1.2" fill="none"/>
<path d="M247.74 393.52V396.78" stroke="#000" stroke-width="1.1" fill="none"/>
<path d="M245.64 393.52h4.2M245.64 396.78h4.2" stroke="#000" stroke-width="1.2" fill="none"/>
<path d="M265.62 340.67V346.1" stroke="#000" stroke-width="1.1" fill="none"/>
<path d="M263.52 340.67h4.2M263.52 346.1h4.2" stroke="#000" stroke-width="1.2" fill="none"/>
<path d="M274.55 335.6V341.03" stroke="#000" stroke-width="1.1" fill="none"/>
<path d="M272.45 335.6h4.2M272.45 341.03h4.2" stroke="#000" stroke-width="1.2" fill="none"/>
<path d="M283.49 382.48V385.74" stroke="#000" stroke-width="1.1" fill="none"/>
<path d="M281.39 382.48h4.2M281.39 385.74h4.2" stroke="#000" stroke-width="1.2" fill="none"/>
<path d="M292.42 368.36V372.35" stroke="#000" stroke-width="1.1" fill="none"/>
<path d="M290.32 368.36h4.2M290.32 372.35h4.2" stroke="#000" stroke-width="1.2" fill="none"/>
<path d="M310.3 326.37V333.25" stroke="#000" stroke-width="1.1" fill="none"/>
<path d="M308.2 326.37h4.2M308.2 333.25h4.2" stroke="#000" stroke-width="1.2" fill="none"/>
<path d="M319.23 319.86V326.73" stroke="#000" stroke-width="1.1" fill="none"/>
<path d="M317.13 319.86h4.2M317.13 326.73h4.2" stroke="#000" stroke-width="1.2" fill="none"/>
<path d="M328.17 362.57V366.92" stroke="#000" stroke-width="1.1" fill="none"/>
<path d="M326.07 362.57h4.2M326.07 366.92h4.2" stroke="#000" stroke-width="1.2" fill="none"/>
<path d="M337.1 347.19V352.62" stroke="#000" stroke-width="1.1" fill="none"/>
<path d="M335 347.19h4.2M335 352.62h4.2" stroke="#000" stroke-width="1.2" fill="none"/>
<path d="M354.98 320.58V327.46" stroke="#000" stroke-width="1.1" fill="none"/>
<path d="M352.88 320.58h4.2M352.88 327.46h4.2" stroke="#000" stroke-width="1.2" fill="none"/>
<path d="M363.91 315.51V322.75" stroke="#000" stroke-width="1.1" fill="none"/>
<path d="M361.81 315.51h4.2M361.81 322.75h4.2" stroke="#000" stroke-width="1.2" fill="none"/>
<path d="M372.85 344.11V349.54" stroke="#000" stroke-width="1.1" fill="none"/>
<path d="M370.75 344.11h4.2M370.75 349.54h4.2" stroke="#000" stroke-width="1.2" fill="none"/>
<path d="M381.78 328.36V334.52" stroke="#000" stroke-width="1.1" fill="none"/>
<path d="M379.68 328.36h4.2M379.68 334.52h4.2" stroke="#000" stroke-width="1.2" fill="none"/>
<path d="M399.66 315.51V322.03" stroke="#000" stroke-width="1.1" fill="none"/>
<path d="M397.56 315.51h4.2M397.56 322.03h4.2" stroke="#000" stroke-width="1.2" fill="none"/>
<path d="M408.59 304.83V312.07" stroke="#000" stroke-width="1.1" fill="none"/>
<path d="M406.49 304.83h4.2M406.49 312.07h4.2" stroke="#000" stroke-width="1.2" fill="none"/>
<path d="M417.53 328.73V334.16" stroke="#000" stroke-width="1.1" fill="none"/>
<path d="M415.43 328.73h4.2M415.43 334.16h4.2" stroke="#000" stroke-width="1.2" fill="none"/>
<path d="M426.46 312.62V319.86" stroke="#000" stroke-width="1.1" fill="none"/>
<path d="M424.36 312.62h4.2M424.36 319.86h4.2" stroke="#000" stroke-width="1.2" fill="none"/>
<rect x="212" y="251.8" width="223.4" height="181" fill="none" stroke="#000" stroke-width="1.6"/>
<path d="M208.5 432.8H212" stroke="#000" stroke-width="1.2"/>
<text transform="translate(205.2 435.65) scale(0.96 1.05)" text-anchor="end" font-size="9.9">0</text>
<path d="M210.3 414.7H212" stroke="#000" stroke-width="1.2"/>
<path d="M208.5 396.6H212" stroke="#000" stroke-width="1.2"/>
<text transform="translate(205.2 399.45) scale(0.96 1.05)" text-anchor="end" font-size="9.9">20</text>
<path d="M210.3 378.5H212" stroke="#000" stroke-width="1.2"/>
<path d="M208.5 360.4H212" stroke="#000" stroke-width="1.2"/>
<text transform="translate(205.2 363.25) scale(0.96 1.05)" text-anchor="end" font-size="9.9">40</text>
<path d="M210.3 342.3H212" stroke="#000" stroke-width="1.2"/>
<path d="M208.5 324.2H212" stroke="#000" stroke-width="1.2"/>
<text transform="translate(205.2 327.05) scale(0.96 1.05)" text-anchor="end" font-size="9.9">60</text>
<path d="M210.3 306.1H212" stroke="#000" stroke-width="1.2"/>
<path d="M208.5 288H212" stroke="#000" stroke-width="1.2"/>
<text transform="translate(205.2 290.85) scale(0.96 1.05)" text-anchor="end" font-size="9.9">80</text>
<path d="M210.3 269.9H212" stroke="#000" stroke-width="1.2"/>
<path d="M208.5 251.8H212" stroke="#000" stroke-width="1.2"/>
<text transform="translate(205.2 254.65) scale(0.96 1.05)" text-anchor="end" font-size="9.9">100</text>
<path d="M234.34 432.8v3.2" stroke="#000" stroke-width="1.2"/>
<text transform="translate(234.34 446.5) scale(0.96 1.05)" text-anchor="middle" font-size="9.9">1</text>
<path d="M279.02 432.8v3.2" stroke="#000" stroke-width="1.2"/>
<text transform="translate(279.02 446.5) scale(0.96 1.05)" text-anchor="middle" font-size="9.9">3</text>
<path d="M256.68 432.8v1.7" stroke="#000" stroke-width="1.2"/>
<path d="M323.7 432.8v3.2" stroke="#000" stroke-width="1.2"/>
<text transform="translate(323.7 446.5) scale(0.96 1.05)" text-anchor="middle" font-size="9.9">5</text>
<path d="M301.36 432.8v1.7" stroke="#000" stroke-width="1.2"/>
<path d="M368.38 432.8v3.2" stroke="#000" stroke-width="1.2"/>
<text transform="translate(368.38 446.5) scale(0.96 1.05)" text-anchor="middle" font-size="9.9">7</text>
<path d="M346.04 432.8v1.7" stroke="#000" stroke-width="1.2"/>
<path d="M413.06 432.8v3.2" stroke="#000" stroke-width="1.2"/>
<text transform="translate(413.06 446.5) scale(0.96 1.05)" text-anchor="middle" font-size="9.9">10</text>
<path d="M390.72 432.8v1.7" stroke="#000" stroke-width="1.2"/>
<text x="321.3" y="456.9" text-anchor="middle" font-size="11.0">Time (min)</text>
<text transform="translate(188 346.75) rotate(-90)" text-anchor="middle" font-size="11.15">TOC removal (%)</text>
<text x="213.8" y="262.3" font-size="10.8">(c)</text>
<rect x="265.1" y="254.2" width="19.3" height="9.4" fill="#700004" stroke="#000" stroke-opacity="0.4" stroke-width="0.5"/>
<text x="286.7" y="261.9" font-size="8.55">4 mg-O<tspan font-size="5.30" dy="2">2</tspan><tspan dy="-2">/min- municipal wastewater</tspan></text>
<rect x="265.1" y="266.8" width="19.3" height="9.4" fill="#f80000" stroke="#000" stroke-opacity="0.4" stroke-width="0.5"/>
<text x="286.7" y="274.5" font-size="8.55">16 mg-O<tspan font-size="5.30" dy="2">2</tspan><tspan dy="-2">/min- municipal wastewater</tspan></text>
<rect x="265.1" y="279.3" width="19.3" height="9.4" fill="#ff4444" stroke="#000" stroke-opacity="0.4" stroke-width="0.5"/>
<text x="286.7" y="287" font-size="8.55">4 mg-O<tspan font-size="5.30" dy="2">2</tspan><tspan dy="-2">/min- hospital wastewater</tspan></text>
<rect x="265.1" y="292" width="19.3" height="9.4" fill="#ffc0c0" stroke="#000" stroke-opacity="0.4" stroke-width="0.5"/>
<text x="286.7" y="299.7" font-size="8.55">16 mg-O<tspan font-size="5.30" dy="2">2</tspan><tspan dy="-2">/min- hospital wastewater</tspan></text>
</svg>
</body></html>
